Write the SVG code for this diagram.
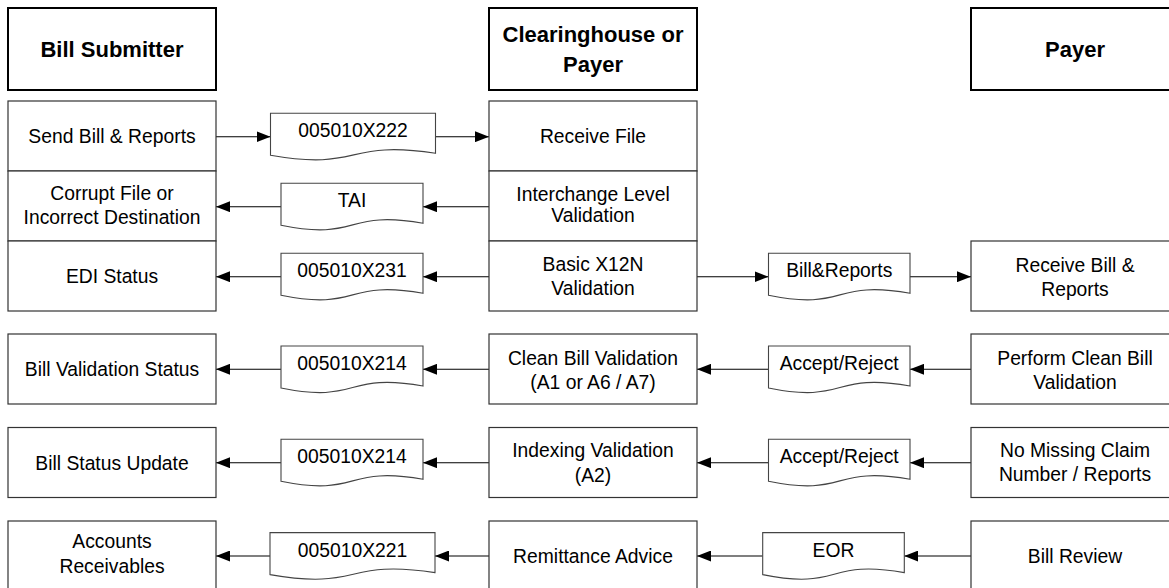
<svg xmlns="http://www.w3.org/2000/svg" width="1169" height="588" viewBox="0 0 1169 588">
<defs>
<style>
.hdr{fill:#fff;stroke:#000;stroke-width:2}
.box{fill:#fff;stroke:#333;stroke-width:1.2}
.doc{fill:#fff;stroke:#444;stroke-width:1.1}
.ht{font-family:"Liberation Sans",Arial,sans-serif;font-size:22px;font-weight:bold;fill:#000;text-anchor:middle}
.t{font-family:"Liberation Sans",Arial,sans-serif;font-size:19.3px;fill:#000;text-anchor:middle}
.c{stroke:#000;stroke-width:1.1;fill:none;marker-end:url(#ah)}
</style>
<marker id="ah" markerUnits="userSpaceOnUse" markerWidth="14" markerHeight="11" refX="14" refY="5.5" orient="auto">
<path d="M0,0 L14,5.5 L0,11 Z" fill="#000"/>
</marker>
</defs>
<rect width="1169" height="588" fill="#fff"/>

<g id="connectors">
<line class="c" x1="216" y1="136.7" x2="270.5" y2="136.7"/>
<line class="c" x1="435.5" y1="136.7" x2="489" y2="136.7"/>
<line class="c" x1="489" y1="206.7" x2="423" y2="206.7"/>
<line class="c" x1="281" y1="206.7" x2="216" y2="206.7"/>
<line class="c" x1="489" y1="276.7" x2="423" y2="276.7"/>
<line class="c" x1="281" y1="276.7" x2="216" y2="276.7"/>
<line class="c" x1="697" y1="276.7" x2="768.5" y2="276.7"/>
<line class="c" x1="910" y1="276.7" x2="971" y2="276.7"/>
<line class="c" x1="971" y1="369.3" x2="910" y2="369.3"/>
<line class="c" x1="768.5" y1="369.3" x2="697" y2="369.3"/>
<line class="c" x1="489" y1="369.3" x2="423" y2="369.3"/>
<line class="c" x1="281" y1="369.3" x2="216" y2="369.3"/>
<line class="c" x1="971" y1="462.7" x2="910" y2="462.7"/>
<line class="c" x1="768.5" y1="462.7" x2="697" y2="462.7"/>
<line class="c" x1="489" y1="462.7" x2="423" y2="462.7"/>
<line class="c" x1="281" y1="462.7" x2="216" y2="462.7"/>
<line class="c" x1="971" y1="556" x2="904.3" y2="556"/>
<line class="c" x1="762.7" y1="556" x2="697" y2="556"/>
<line class="c" x1="489" y1="556" x2="435" y2="556"/>
<line class="c" x1="270" y1="556" x2="216" y2="556"/>
</g>

<g id="hdr-submitter"><rect class="hdr" x="8" y="8" width="208" height="82"/><text class="ht" x="112" y="57">Bill Submitter</text></g>
<g id="hdr-clearinghouse"><rect class="hdr" x="489" y="8" width="208" height="82"/><text class="ht" x="593" y="42">Clearinghouse or</text><text class="ht" x="593" y="72">Payer</text></g>
<g id="hdr-payer"><rect class="hdr" x="971" y="8" width="208" height="82"/><text class="ht" x="1075" y="57">Payer</text></g>

<g id="send-bill"><rect class="box" x="8" y="101" width="208" height="70"/><text class="t" transform="matrix(1 0 0 1.08 112 143)">Send Bill &amp; Reports</text></g>
<g id="corrupt-file"><rect class="box" x="8" y="171" width="208" height="70"/><text class="t" transform="matrix(1 0 0 1.08 112 200)">Corrupt File or</text><text class="t" transform="matrix(1 0 0 1.08 112 224)">Incorrect Destination</text></g>
<g id="edi-status"><rect class="box" x="8" y="241" width="208" height="70"/><text class="t" transform="matrix(1 0 0 1.08 112 283)">EDI Status</text></g>
<g id="bill-validation-status"><rect class="box" x="8" y="334" width="208" height="70"/><text class="t" transform="matrix(1 0 0 1.08 112 376)">Bill Validation Status</text></g>
<g id="bill-status-update"><rect class="box" x="8" y="427.5" width="208" height="70"/><text class="t" transform="matrix(1 0 0 1.08 112 469.5)">Bill Status Update</text></g>
<g id="accounts-receivables"><rect class="box" x="8" y="521" width="208" height="70"/><text class="t" transform="matrix(1 0 0 1.08 112 548)">Accounts</text><text class="t" transform="matrix(1 0 0 1.08 112 572.5)">Receivables</text></g>

<g id="receive-file"><rect class="box" x="489" y="101" width="208" height="70"/><text class="t" transform="matrix(1 0 0 1.08 593 143)">Receive File</text></g>
<g id="interchange"><rect class="box" x="489" y="171" width="208" height="70"/><text class="t" transform="matrix(1 0 0 1.08 593 200.5)">Interchange Level</text><text class="t" transform="matrix(1 0 0 1.08 593 222)">Validation</text></g>
<g id="basic-x12n"><rect class="box" x="489" y="241" width="208" height="70"/><text class="t" transform="matrix(1 0 0 1.08 593 271)">Basic X12N</text><text class="t" transform="matrix(1 0 0 1.08 593 295)">Validation</text></g>
<g id="clean-bill-validation"><rect class="box" x="489" y="334" width="208" height="70"/><text class="t" transform="matrix(1 0 0 1.08 593 364.5)">Clean Bill Validation</text><text class="t" transform="matrix(1 0 0 1.08 593 388.5)">(A1 or A6 / A7)</text></g>
<g id="indexing-validation"><rect class="box" x="489" y="427.5" width="208" height="70"/><text class="t" transform="matrix(1 0 0 1.08 593 457)">Indexing Validation</text><text class="t" transform="matrix(1 0 0 1.08 593 481.5)">(A2)</text></g>
<g id="remittance-advice"><rect class="box" x="489" y="521" width="208" height="70"/><text class="t" transform="matrix(1 0 0 1.08 593 563)">Remittance Advice</text></g>

<g id="receive-bill"><rect class="box" x="971" y="241" width="208" height="70"/><text class="t" transform="matrix(1 0 0 1.08 1075 271.5)">Receive Bill &amp;</text><text class="t" transform="matrix(1 0 0 1.08 1075 296)">Reports</text></g>
<g id="perform-clean-bill"><rect class="box" x="971" y="334" width="208" height="70"/><text class="t" transform="matrix(1 0 0 1.08 1075 364.5)">Perform Clean Bill</text><text class="t" transform="matrix(1 0 0 1.08 1075 388.5)">Validation</text></g>
<g id="no-missing-claim"><rect class="box" x="971" y="427.5" width="208" height="70"/><text class="t" transform="matrix(1 0 0 1.08 1075 457)">No Missing Claim</text><text class="t" transform="matrix(1 0 0 1.08 1075 481)">Number / Reports</text></g>
<g id="bill-review"><rect class="box" x="971" y="521" width="208" height="70"/><text class="t" transform="matrix(1 0 0 1.08 1075 563)">Bill Review</text></g>

<g id="doc-x222"><path class="doc" d="M270.5,113.3 H435.5 V153.3 C344.7,139.3 361.2,171.3 270.5,155.3 Z"/><text class="t" transform="matrix(1 0 0 1.08 353 137)">005010X222</text></g>
<g id="doc-tai"><path class="doc" d="M281,183.3 H423 V223.3 C344.9,209.3 359.1,241.3 281,225.3 Z"/><text class="t" transform="matrix(1 0 0 1.08 352 207)">TAI</text></g>
<g id="doc-x231"><path class="doc" d="M281,253.3 H423 V293.3 C344.9,279.3 359.1,311.3 281,295.3 Z"/><text class="t" transform="matrix(1 0 0 1.08 352 277)">005010X231</text></g>
<g id="doc-x214a"><path class="doc" d="M281,346 H423 V386 C344.9,372 359.1,404 281,388 Z"/><text class="t" transform="matrix(1 0 0 1.08 352 370)">005010X214</text></g>
<g id="doc-x214b"><path class="doc" d="M281,439.3 H423 V479.3 C344.9,465.3 359.1,497.3 281,481.3 Z"/><text class="t" transform="matrix(1 0 0 1.08 352 463.3)">005010X214</text></g>
<g id="doc-x221"><path class="doc" d="M270,532.6 H435 V572.6 C344.3,558.6 360.8,590.6 270,574.6 Z"/><text class="t" transform="matrix(1 0 0 1.08 352.5 556.5)">005010X221</text></g>
<g id="doc-billreports"><path class="doc" d="M768.5,253.3 H910 V293.3 C832.2,279.3 846.3,311.3 768.5,295.3 Z"/><text class="t" transform="matrix(1 0 0 1.08 839.2 277)">Bill&amp;Reports</text></g>
<g id="doc-accept1"><path class="doc" d="M768.5,346 H910 V386 C832.2,372 846.3,404 768.5,388 Z"/><text class="t" transform="matrix(1 0 0 1.08 839.2 370)">Accept/Reject</text></g>
<g id="doc-accept2"><path class="doc" d="M768.5,439.3 H910 V479.3 C832.2,465.3 846.3,497.3 768.5,481.3 Z"/><text class="t" transform="matrix(1 0 0 1.08 839.2 463.3)">Accept/Reject</text></g>
<g id="doc-eor"><path class="doc" d="M762.7,532.6 H904.3 V572.6 C826.4,558.6 840.6,590.6 762.7,574.6 Z"/><text class="t" transform="matrix(1 0 0 1.08 833.5 556.5)">EOR</text></g>
</svg>
